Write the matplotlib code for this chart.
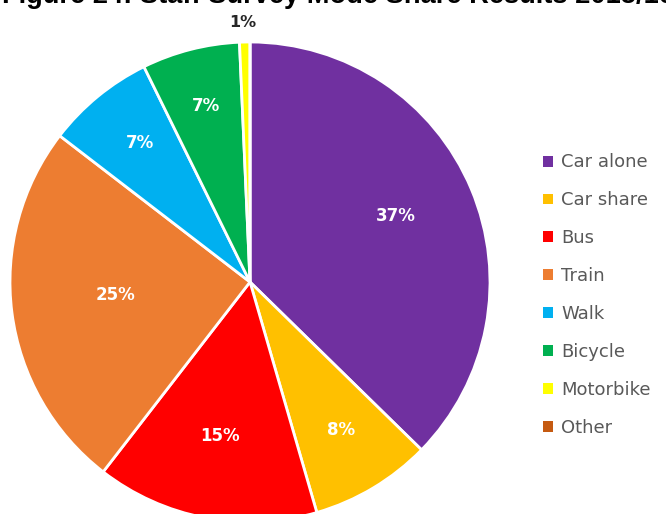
import matplotlib
matplotlib.use('Agg')
import matplotlib.pyplot as plt
from matplotlib.patches import Patch
import math

# staff survey mode share, percent
modes = ['Car alone', 'Car share', 'Bus', 'Train', 'Walk', 'Bicycle', 'Motorbike', 'Other']
shares = [37.4, 8.2, 15.0, 25.0, 7.3, 6.6, 0.7, 0.0]
colours = ['#7030A0', '#FFC000', '#FF0000', '#ED7D31', '#00B0F0', '#00B050', '#FFFF00', '#C55A11']
# how far out (fraction of radius) each percentage label sits
label_dist = [0.66, 0.74, 0.675, 0.565, 0.725, 0.735, 1.08, 0.7]

W, H = 666, 514
fig = plt.figure(figsize=(W / 100, H / 100), dpi=100)

# pie centre (250, 282) px, radius 240 px
cx, cy, r = 250, 282, 240
ax = fig.add_axes([(cx - r) / W, (H - cy - r) / H, 2 * r / W, 2 * r / H])

wedges, _ = ax.pie(shares, colors=colours, startangle=90, counterclock=False,
                   wedgeprops=dict(edgecolor='white', linewidth=2))
ax.set_xlim(-1, 1)
ax.set_ylim(-1, 1)
ax.set_aspect('equal')
ax.axis('off')

total = sum(shares)
ang = 90.0
for name, v, d in zip(modes, shares, label_dist):
    sweep = v / total * 360.0
    mid = math.radians(ang - sweep / 2)
    ang -= sweep
    if round(v) == 0:
        continue
    label = '%d%%' % round(v)
    if v < 2:
        # small slice: label sits just outside the rim
        ax.text(-0.03, d, label, ha='center', va='center', fontsize=11.5,
                fontweight='bold', color='#262626', clip_on=False)
    else:
        ax.text(d * math.cos(mid), d * math.sin(mid) + 0.02, label, ha='center',
                va='center', fontsize=12, fontweight='bold', color='white')

handles = [Patch(facecolor=c, edgecolor='none') for c in colours]
fig.legend(handles, modes, loc='center left', bbox_to_anchor=(527 / W, 1 - 295 / H),
           frameon=False, fontsize=13, labelcolor='#595959', handlelength=0.55,
           handleheight=0.55, handletextpad=0.45, labelspacing=1.1)

fig.text(0.508, 1 - 3 / H, 'Figure 24: Staff Survey Mode Share Results 2015/16',
         ha='center', va='baseline', fontsize=19.6, fontweight='bold',
         family='Liberation Sans')

fig.savefig('out.png', dpi=100)
